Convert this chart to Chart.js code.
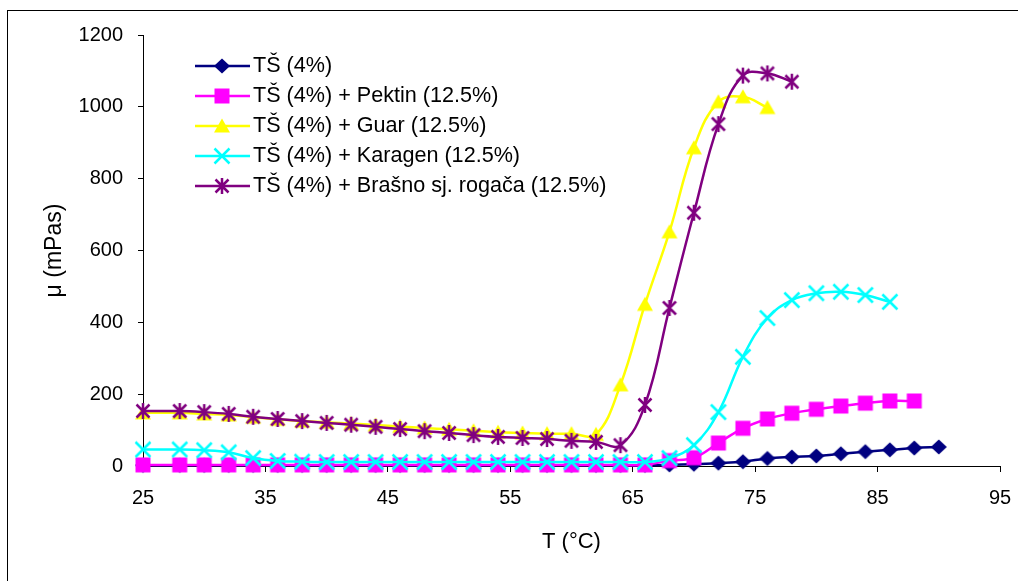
<!DOCTYPE html>
<html>
<head>
<meta charset="utf-8">
<script src="https://cdn.jsdelivr.net/npm/chart.js@4/dist/chart.umd.min.js"></script>
<style>
  html, body { margin: 0; padding: 0; background: #fff; overflow: hidden; }
  #wrap { position: relative; width: 1018px; height: 581px; }
  #frame { position: absolute; left: 7px; top: 10px; width: 1100px; height: 700px; border-left: 1px solid #000; border-top: 1px solid #000; box-sizing: border-box; }
  canvas { position: absolute; left: 0; top: 0; }
</style>
</head>
<body>
<div id="wrap">
  <div id="frame"></div>
  <canvas id="c" width="1018" height="581"></canvas>
</div>
<script>
// ---- data ----
const temperatures = [25, 28, 30, 32, 34, 36, 38, 40, 42, 44, 46, 48, 50, 52, 54, 56, 58, 60, 62, 64, 66, 68, 70, 72, 74, 76, 78, 80, 82, 84, 86, 88, 90];
const seriesLabels = ['TŠ (4%)', 'TŠ (4%) + Pektin (12.5%)', 'TŠ (4%) + Guar (12.5%)', 'TŠ (4%) + Karagen (12.5%)', 'TŠ (4%) + Brašno sj. rogača (12.5%)'];
const tsValues      = [2, 2, 2, 2, 2, 2, 2, 2, 2, 2, 2, 2, 2, 2, 2, 2, 2, 2, 2, 2, 2, 3, 5, 8, 12, 21, 25, 28, 34, 40, 45, 50, 53];
const pektinValues  = [3, 3, 3, 3, 3, 3, 3, 3, 3, 3, 3, 3, 3, 3, 3, 3, 3, 3, 3, 3, 3, 15, 23, 64, 105, 131, 147, 158, 167, 175, 181, 181];
const guarValues    = [148, 148, 145, 142, 136, 130, 125, 122, 118, 114, 110, 106, 102, 98, 94, 92, 90, 90, 88, 226, 450, 652, 886, 1014, 1028, 998];
const karagenValues = [46, 46, 44, 38, 22, 14, 12, 11, 11, 11, 11, 11, 11, 11, 11, 11, 11, 11, 11, 11, 11, 22, 58, 150, 304, 412, 462, 481, 485, 476, 457];
const brasnoValues  = [153, 153, 150, 145, 137, 131, 125, 120, 115, 109, 103, 97, 92, 86, 81, 78, 75, 70, 67, 58, 170, 440, 705, 952, 1087, 1093, 1070];
const xTickMin = 25, xTickMax = 95, xTickStep = 10;
const yTickMin = 0, yTickMax = 1200, yTickStep = 200;

// ---- styles ----
const colors = ['#000080', '#FF00FF', '#FFFF00', '#00FFFF', '#800080'];
const markerKinds = ['diamond', 'square', 'triangle', 'x', 'star'];
const FONT = "'Liberation Sans', Arial, sans-serif";

function makeMarker(kind, color) {
  const s = 22, m = s / 2;
  const c = document.createElement('canvas');
  c.width = s; c.height = s;
  const g = c.getContext('2d');
  g.fillStyle = color; g.strokeStyle = color; g.lineCap = 'butt';
  g.beginPath();
  if (kind === 'diamond') {
    g.moveTo(m, m - 7.5); g.lineTo(m + 8, m); g.lineTo(m, m + 7.5); g.lineTo(m - 8, m); g.closePath(); g.fill();
  } else if (kind === 'square') {
    g.rect(m - 7.5, m - 7.5, 15, 15); g.fill();
  } else if (kind === 'triangle') {
    g.moveTo(m, m - 7.5); g.lineTo(m + 8, m + 6.5); g.lineTo(m - 8, m + 6.5); g.closePath(); g.fill();
  } else if (kind === 'x') {
    g.lineWidth = 2.5;
    g.moveTo(m - 7.5, m - 7.5); g.lineTo(m + 7.5, m + 7.5);
    g.moveTo(m + 7.5, m - 7.5); g.lineTo(m - 7.5, m + 7.5); g.stroke();
  } else if (kind === 'star') {
    g.lineWidth = 2.5;
    g.moveTo(m - 6.5, m - 6.5); g.lineTo(m + 6.5, m + 6.5);
    g.moveTo(m + 6.5, m - 6.5); g.lineTo(m - 6.5, m + 6.5);
    g.moveTo(m, m - 8); g.lineTo(m, m + 8); g.stroke();
  }
  return c;
}
const markers = markerKinds.map((k, i) => makeMarker(k, colors[i]));

const allValues = [tsValues, pektinValues, guarValues, karagenValues, brasnoValues];
const datasets = allValues.map((vals, i) => ({
  label: seriesLabels[i],
  data: vals.map((v, j) => ({ x: temperatures[j], y: v })),
  borderColor: colors[i],
  backgroundColor: colors[i],
  borderWidth: 2.5,
  pointStyle: markers[i],
  pointRadius: 8,
  tension: 0.4,
  fill: false,
  clip: false,
  order: allValues.length - i
}));

const legendPlugin = {
  id: 'insideLegend',
  afterDraw(chart) {
    const ctx = chart.ctx;
    ctx.save();
    chart.data.datasets.forEach((ds, i) => {
      const y = 66 + i * 30;
      ctx.strokeStyle = ds.borderColor;
      ctx.lineWidth = 2.5;
      ctx.beginPath(); ctx.moveTo(195, y); ctx.lineTo(250, y); ctx.stroke();
      const mk = ds.pointStyle;
      ctx.drawImage(mk, 222 - mk.width / 2, y - mk.height / 2);
      ctx.fillStyle = '#000';
      ctx.font = '21.6px ' + FONT;
      ctx.textBaseline = 'middle';
      ctx.textAlign = 'left';
      ctx.fillText(ds.label, 253, y);
    });
    ctx.restore();
  }
};

new Chart(document.getElementById('c'), {
  type: 'line',
  data: { datasets },
  plugins: [legendPlugin],
  options: {
    responsive: false,
    animation: false,
    events: [],
    layout: { padding: { left: 0, top: 35, right: 18, bottom: 0 } },
    plugins: { legend: { display: false }, tooltip: { enabled: false } },
    scales: {
      x: {
        type: 'linear',
        min: xTickMin, max: xTickMax,
        ticks: { stepSize: xTickStep, color: '#000', font: { family: FONT, size: 20 }, padding: 14, maxRotation: 0, callback: v => String(v) },
        grid: { drawOnChartArea: false, drawTicks: true, tickLength: 6, color: '#000', lineWidth: 1 },
        border: { display: true, color: '#000', width: 1 },
        title: { display: true, text: 'T (°C)', color: '#000', font: { family: FONT, size: 22 }, padding: { top: 0, bottom: 26 } },
        afterFit(scale) { scale.height = 115; scale.paddingLeft = 0; scale.paddingRight = 0; }
      },
      y: {
        min: yTickMin, max: yTickMax,
        ticks: { stepSize: yTickStep, color: '#000', font: { family: FONT, size: 20 }, padding: 15, callback: v => String(v) },
        grid: { drawOnChartArea: false, drawTicks: true, tickLength: 5, color: '#000', lineWidth: 1 },
        border: { display: true, color: '#000', width: 1 },
        title: { display: true, text: 'μ (mPas)', color: '#000', font: { family: FONT, size: 23 }, padding: { top: 41, bottom: 0 } },
        afterFit(scale) { scale.width = 143; scale.paddingTop = 0; scale.paddingBottom = 0; }
      }
    }
  }
});
</script>
</body>
</html>
